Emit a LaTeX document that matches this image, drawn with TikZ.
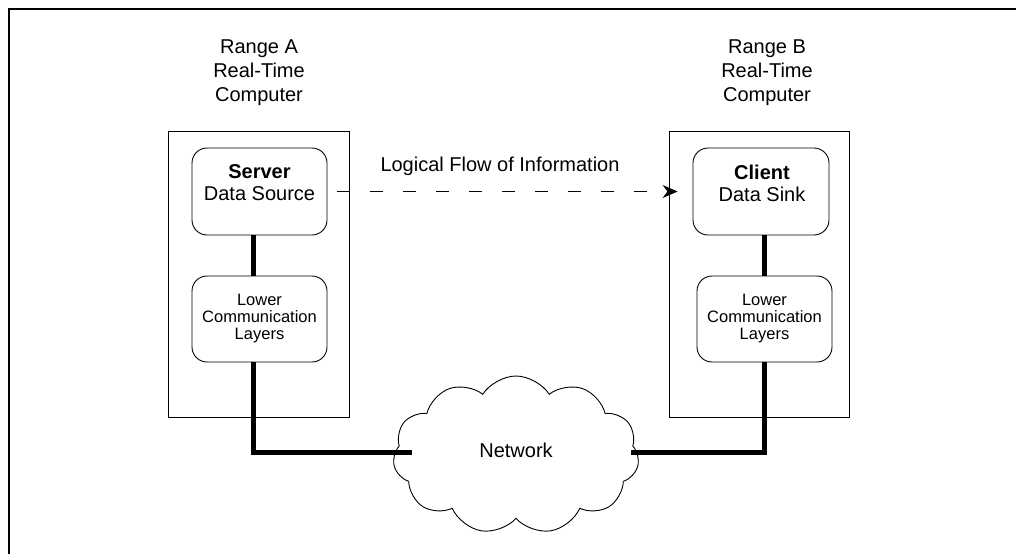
\documentclass[tikz,border=0pt]{standalone}
\usepackage{fontspec}
\setmainfont{Liberation Sans}
\usetikzlibrary{shapes.symbols,arrows.meta}
\begin{document}
\begin{tikzpicture}[x=1pt,y=-1pt,
  rangebox/.style={draw,line width=0.8pt,rectangle,inner sep=0pt},
  appbox/.style={draw,line width=0.9pt,rectangle,rounded corners=15pt,inner sep=0pt},
  lbl/.style={font=\fontsize{20}{24}\selectfont,align=center,inner sep=0pt},
  small/.style={font=\fontsize{16.5}{17}\selectfont,align=center,inner sep=0pt},
  thick link/.style={line width=5pt},
  flow/.style={line width=0.9pt,dash pattern=on 13pt off 20pt,-{Stealth[length=15pt,width=13pt,inset=5pt]}}]
\useasboundingbox (0,0) rectangle (1016,554);
% outer frame (top and left visible)
\draw[line width=2pt] (9,554) -- (9,9) -- (1016,9);
% range boxes
\node[rangebox,minimum width=181pt,minimum height=286pt] (ra) at (258.5,274) {};
\node[rangebox,minimum width=180pt,minimum height=286pt] (rb) at (759,274) {};
% range labels
\node[lbl] (la) at (259,73) {Range A\\Real-Time\\Computer};
\node[lbl] (lb) at (767,73) {Range B\\Real-Time\\Computer};
% application boxes
\node[appbox,minimum width=135pt,minimum height=87pt] (srv) at (259.5,191.5) {};
\node[lbl,font=\fontsize{20}{22}\selectfont] (srvt) at (259.5,183) {\textbf{Server}\\Data Source};
\node[appbox,minimum width=136pt,minimum height=87pt] (cli) at (761,191.5) {};
\node[lbl,font=\fontsize{20}{22}\selectfont] (clit) at (762,183) {\textbf{Client}\\Data Sink};
% lower layers
\node[appbox,minimum width=135pt,minimum height=86pt,small] (lowa) at (259.5,319) {Lower\\Communication\\Layers};
\node[appbox,minimum width=135pt,minimum height=86pt,small] (lowb) at (764.5,319) {Lower\\Communication\\Layers};
% network cloud
\node[cloud,draw,line width=0.9pt,fill=white,cloud puffs=11,cloud puff arc=115,
      minimum width=246pt,minimum height=158pt,inner sep=0pt,aspect=1.55] (net) at (516,455) {};
\node[lbl] (nett) at (516,450) {Network};
% links
\coordinate (ca) at (253,452);
\coordinate (cb) at (764,452);
\draw[thick link] (srv.south -| ca) -- (lowa.north -| ca);
\draw[thick link] (cli.south -| cb) -- (lowb.north -| cb);
\draw[thick link] (lowa.south -| ca) -- (ca) -- ([xshift=18pt]ca -| net.west);
\draw[thick link] (lowb.south -| cb) -- (cb) -- ([xshift=-7pt]cb -| net.east);
% logical flow
\draw[flow] ([xshift=10pt]srv.east) -- ([xshift=-15pt]cli.west);
\node[lbl] (flowt) at (500,166) {Logical Flow of Information};
\end{tikzpicture}
\end{document}
